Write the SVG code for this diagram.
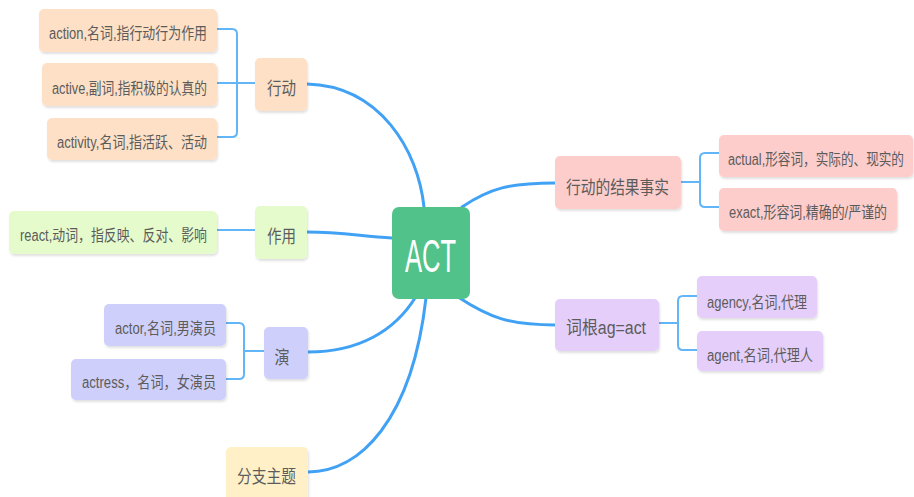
<svg xmlns="http://www.w3.org/2000/svg" width="914" height="497" viewBox="0 0 914 497">
<defs>
<filter id="sh" x="-10%" y="-10%" width="130%" height="140%">
<feDropShadow dx="1" dy="2" stdDeviation="1.2" flood-color="#000" flood-opacity="0.12"/>
</filter>
<style>
.box{filter:url(#sh);}
.t{font-family:"Liberation Sans","Noto Sans CJK SC",sans-serif;fill:#5c5c5c;text-anchor:middle;dominant-baseline:central;}
.c{font-size:16px;}
.b{font-size:18px;}
.main{fill:none;stroke:#41a2f5;stroke-width:3;stroke-linecap:round;}
.br{fill:none;stroke:#62b5f7;stroke-width:2;}
.peach{fill:#fde0c6;}
.green{fill:#e5fbcc;}
.lav{fill:#cfcffb;}
.yel{fill:#fff0c8;}
.pink{fill:#fdcdcb;}
.purp{fill:#e5cffa;}
</style>
</defs>
<rect width="914" height="497" fill="#ffffff"/>

<g id="connectors">
<path class="main" d="M307,84 C380,86 418,150 424,207"/>
<path class="main" d="M392,238 C360,236 340,232 307,232"/>
<path class="main" d="M415,298 C395,330 360,352 308,352"/>
<path class="main" d="M426,298 C412,420 360,472 308,472"/>
<path class="main" d="M462,207 C490,188 510,183 555,183"/>
<path class="main" d="M458,297 C490,318 510,325 555,325"/>
<path class="br" d="M217,29 H232 Q237,29 237,34 V132 Q237,137 232,137 H217"/>
<path class="br" d="M217,83 H255"/>
<path class="br" d="M217,230 H255"/>
<path class="br" d="M226,323 H239 Q244,323 244,328 V374 Q244,379 239,379 H226"/>
<path class="br" d="M244,351 H264"/>
<path class="br" d="M681,182 H700"/>
<path class="br" d="M719,153 H705 Q700,153 700,158 V202 Q700,207 705,207 H719"/>
<path class="br" d="M659,323 H678"/>
<path class="br" d="M697,296 H683 Q678,296 678,301 V345 Q678,350 683,350 H697"/>
</g>

<g id="root">
<rect x="392" y="207" width="78" height="92" rx="7" fill="#51c38a"/>
<text x="430.5" y="256" font-family="Liberation Sans,Noto Sans,sans-serif" font-size="46" fill="#ffffff" text-anchor="middle" dominant-baseline="central" textLength="51" lengthAdjust="spacingAndGlyphs">ACT</text>
</g>

<g id="xingdong">
<rect class="box peach" x="255" y="58" width="52" height="53" rx="5"/>
<text class="t b" x="281.5" y="89" textLength="29" lengthAdjust="spacingAndGlyphs">行动</text>
</g>
<g id="action">
<rect class="box peach" x="39" y="9" width="178" height="43" rx="5"/>
<text class="t c" x="128" y="33" textLength="158" lengthAdjust="spacingAndGlyphs">action,名词,指行动行为作用</text>
</g>
<g id="active">
<rect class="box peach" x="42" y="63" width="175" height="43" rx="5"/>
<text class="t c" x="129.5" y="88" textLength="155" lengthAdjust="spacingAndGlyphs">active,副词,指积极的认真的</text>
</g>
<g id="activity">
<rect class="box peach" x="47" y="118" width="170" height="42" rx="5"/>
<text class="t c" x="132" y="142" textLength="150" lengthAdjust="spacingAndGlyphs">activity,名词,指活跃、活动</text>
</g>

<g id="zuoyong">
<rect class="box green" x="255" y="206" width="52" height="53" rx="5"/>
<text class="t b" x="281.5" y="237" textLength="29" lengthAdjust="spacingAndGlyphs">作用</text>
</g>
<g id="react">
<rect class="box green" x="9" y="211" width="208" height="43" rx="5"/>
<text class="t c" x="113.5" y="235" textLength="187" lengthAdjust="spacingAndGlyphs">react,动词，指反映、反对、影响</text>
</g>

<g id="yan">
<rect class="box lav" x="264" y="327" width="44" height="52" rx="5"/>
<text class="t b" x="282" y="358" textLength="15" lengthAdjust="spacingAndGlyphs">演</text>
</g>
<g id="actor">
<rect class="box lav" x="104" y="304" width="122" height="42" rx="5"/>
<text class="t c" x="165.5" y="328" textLength="101" lengthAdjust="spacingAndGlyphs">actor,名词,男演员</text>
</g>
<g id="actress">
<rect class="box lav" x="71" y="359" width="155" height="41" rx="5"/>
<text class="t c" x="149" y="382" textLength="134" lengthAdjust="spacingAndGlyphs">actress，名词，女演员</text>
</g>

<g id="fenzhi">
<rect class="box yel" x="226" y="447" width="82" height="56" rx="5"/>
<text class="t b" x="266.5" y="477" textLength="59" lengthAdjust="spacingAndGlyphs">分支主题</text>
</g>

<g id="jieguo">
<rect class="box pink" x="555" y="156" width="126" height="53" rx="5"/>
<text class="t b" x="617.5" y="188" textLength="103" lengthAdjust="spacingAndGlyphs">行动的结果事实</text>
</g>
<g id="actual">
<rect class="box pink" x="719" y="135" width="194" height="42" rx="5"/>
<text class="t c" x="816" y="159" textLength="176" lengthAdjust="spacingAndGlyphs">actual,形容词，实际的、现实的</text>
</g>
<g id="exact">
<rect class="box pink" x="719" y="188" width="178" height="43" rx="5"/>
<text class="t c" x="808" y="212" textLength="158" lengthAdjust="spacingAndGlyphs">exact,形容词,精确的/严谨的</text>
</g>

<g id="cigen">
<rect class="box purp" x="555" y="299" width="104" height="52" rx="5"/>
<text class="t b" x="606" y="328" textLength="80" lengthAdjust="spacingAndGlyphs">词根ag=act</text>
</g>
<g id="agency">
<rect class="box purp" x="697" y="276" width="120" height="42" rx="5"/>
<text class="t c" x="757" y="302" textLength="100" lengthAdjust="spacingAndGlyphs">agency,名词,代理</text>
</g>
<g id="agent">
<rect class="box purp" x="697" y="331" width="126" height="40" rx="5"/>
<text class="t c" x="760" y="355" textLength="106" lengthAdjust="spacingAndGlyphs">agent,名词,代理人</text>
</g>
</svg>
